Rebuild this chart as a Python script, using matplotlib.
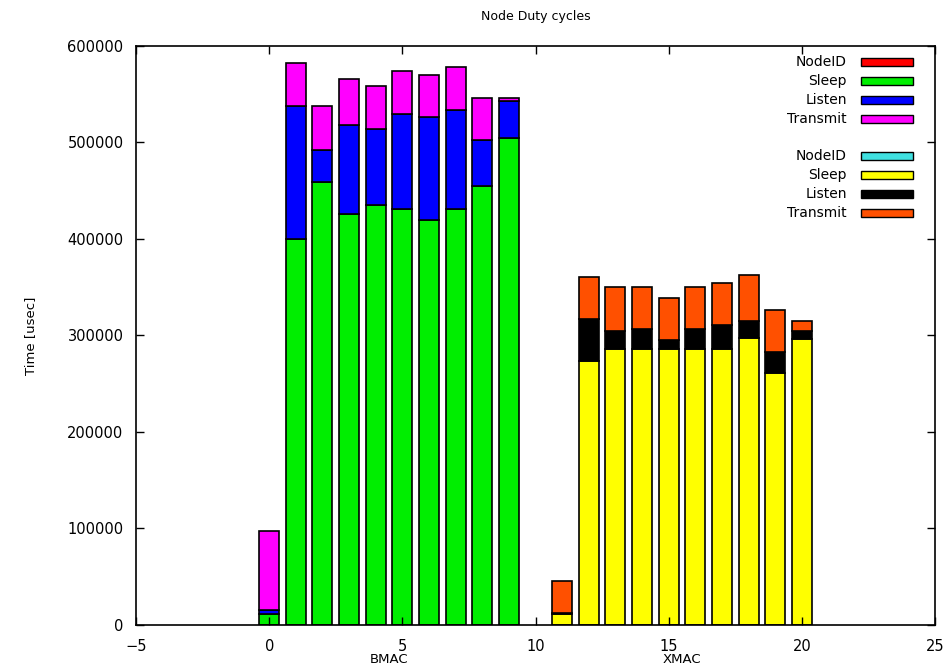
import matplotlib
matplotlib.use("Agg")
import matplotlib.pyplot as plt
from matplotlib.patches import Rectangle

# Node positions on the x axis
bmac_nodes = [0, 1, 2, 3, 4, 5, 6, 7, 8, 9]
xmac_nodes = [11, 12, 13, 14, 15, 16, 17, 18, 19, 20]

# BMAC duty cycle components (usec)
bmac_sleep = [11000, 400000, 459000, 426000, 435000, 431000, 420000, 431000, 455000, 505000]
bmac_listen = [5000, 138000, 33000, 92000, 79000, 99000, 106000, 103000, 48000, 38000]
bmac_transmit = [81500, 44000, 46000, 48000, 44000, 44000, 44000, 44000, 43000, 3000]

# XMAC duty cycle components (usec)
xmac_sleep = [11000, 274000, 285500, 285500, 285500, 285500, 285500, 297500, 261000, 296000]
xmac_listen = [1000, 43000, 19500, 21500, 9500, 21500, 25500, 17500, 22000, 9000]
xmac_transmit = [34000, 44000, 45500, 43500, 44000, 43500, 43500, 47500, 43000, 10000]

group_labels = ["BMAC", "XMAC"]
series_labels = ["NodeID", "Sleep", "Listen", "Transmit"]
bmac_colors = ["#ff0000", "#00ee00", "#0000ff", "#ff00ff"]
xmac_colors = ["#40e0e0", "#ffff00", "#000000", "#ff5000"]

plt.rcParams["font.family"] = ["DejaVu Sans"]

fig = plt.figure(figsize=(9.5, 6.66), dpi=100)
ax = fig.add_axes([0.1432, 0.0616, 0.8410, 0.8694])

width = 0.75
edge = dict(edgecolor="black", linewidth=1.2)


def stack(ax, xs, parts, colors):
    bottom = [0] * len(xs)
    for vals, c in zip(parts, colors):
        ax.bar(xs, vals, width, bottom=bottom, color=c, **edge)
        bottom = [b + v for b, v in zip(bottom, vals)]


stack(ax, bmac_nodes, [bmac_sleep, bmac_listen, bmac_transmit], bmac_colors[1:])
stack(ax, xmac_nodes, [xmac_sleep, xmac_listen, xmac_transmit], xmac_colors[1:])

ax.set_xlim(-5, 25)
ax.set_ylim(0, 600000)
ax.set_xticks(range(-5, 26, 5))
ax.set_yticks(range(0, 600001, 100000))
ax.tick_params(direction="in", top=True, right=True, length=6, width=1,
               labelsize=10.5)
ax.tick_params(axis="x", pad=10)
ax.tick_params(axis="y", pad=9)
for s in ax.spines.values():
    s.set_linewidth(1.2)

ax.set_title("Node Duty cycles", fontsize=9, pad=19)
ax.set_ylabel("Time [usec]", fontsize=9.5, labelpad=22)

# Group labels under the x axis
for nodes, lab in zip([bmac_nodes, xmac_nodes], group_labels):
    cx = sum(nodes) / len(nodes)
    ax.annotate(lab, xy=(cx, 0), xycoords=("data", "axes fraction"),
                xytext=(0, -20), textcoords="offset points",
                ha="center", va="top", fontsize=9.5)

# Two-block key in the top right corner
def key_block(y0, colors):
    dy = 19 / 580
    for i, (lab, c) in enumerate(zip(series_labels, colors)):
        y = y0 - i * dy
        ax.text(0.89, y, lab, transform=ax.transAxes, ha="right",
                va="center", fontsize=10)
        ax.add_patch(Rectangle((0.907, y - 0.007), 0.066, 0.014,
                               transform=ax.transAxes, facecolor=c,
                               edgecolor="black", linewidth=1.0,
                               clip_on=False))


key_block(1 - 16.5 / 580, bmac_colors)
key_block(1 - 110.5 / 580, xmac_colors)

fig.savefig("out.png", dpi=100)
